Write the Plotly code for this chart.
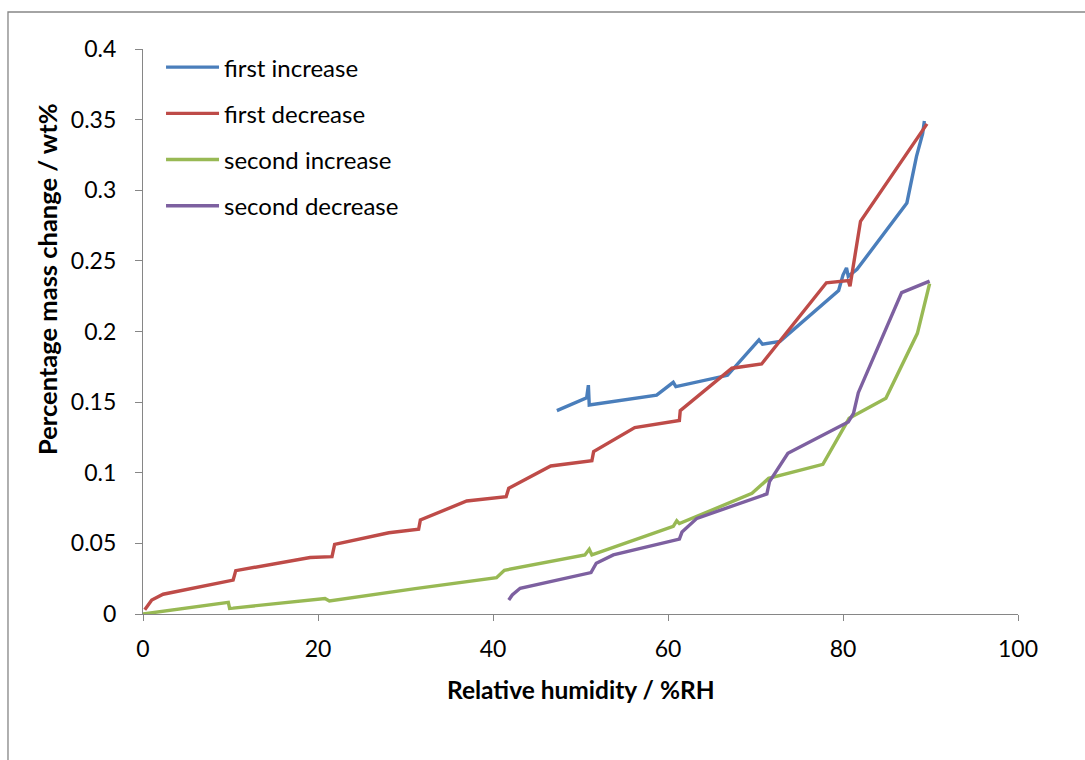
import plotly.graph_objects as go

# ---- data ----
first_increase_rh = [47.3, 50.7, 50.9, 51.0, 58.7, 60.6, 60.9, 66.8, 70.4, 70.8, 72.8,
                     79.5, 80.0, 80.4, 80.6, 81.6, 87.3, 88.4, 89.1, 89.3]
first_increase_mass = [0.144, 0.153, 0.162, 0.148, 0.155, 0.164, 0.161, 0.169, 0.194, 0.191, 0.193,
                       0.229, 0.240, 0.245, 0.239, 0.244, 0.291, 0.324, 0.340, 0.349]

first_decrease_rh = [89.6, 82.0, 80.8, 80.6, 78.1, 71.0, 70.7, 67.3, 61.4, 61.3, 56.2, 51.5, 51.3,
                     46.6, 41.8, 41.5, 37.0, 31.7, 31.5, 28.1, 21.9, 21.6, 19.1, 10.6, 10.3,
                     2.3, 1.0, 0.2]
first_decrease_mass = [0.347, 0.278, 0.232, 0.236, 0.2345, 0.179, 0.177, 0.174, 0.144, 0.137, 0.132,
                       0.115, 0.1085, 0.1048, 0.089, 0.083, 0.080, 0.0666, 0.060, 0.0575, 0.0493,
                       0.0406, 0.040, 0.0307, 0.024, 0.014, 0.0099, 0.003]

second_increase_rh = [0.0, 9.75, 9.9, 10.3, 20.8, 21.3, 31.1, 40.4, 41.3, 50.5, 51.0, 51.3,
                      60.6, 61.0, 61.3, 69.6, 71.5, 77.7, 80.7, 84.9, 88.5, 89.8, 89.9]
second_increase_mass = [0.0, 0.0083, 0.004, 0.0042, 0.011, 0.0092, 0.018, 0.0257, 0.031, 0.0418,
                        0.0458, 0.0418, 0.062, 0.066, 0.064, 0.0854, 0.096, 0.106, 0.1385, 0.1527,
                        0.1987, 0.2317, 0.234]

second_decrease_rh = [89.9, 86.7, 81.75, 81.2, 80.6, 73.7, 71.6, 71.3, 63.3, 61.6, 61.3, 53.75,
                      51.8, 51.2, 43.1, 42.2, 41.8]
second_decrease_mass = [0.2357, 0.2275, 0.1567, 0.142, 0.136, 0.1138, 0.0937, 0.085, 0.0677, 0.058,
                        0.053, 0.0418, 0.0359, 0.0293, 0.0182, 0.0135, 0.0099]

series = [
    ("first increase", first_increase_rh, first_increase_mass, "#4A7EBB"),
    ("first decrease", first_decrease_rh, first_decrease_mass, "#BE4B48"),
    ("second increase", second_increase_rh, second_increase_mass, "#98B954"),
    ("second decrease", second_decrease_rh, second_decrease_mass, "#7D60A0"),
]

FONT = "Lato"
AXIS_GREY = "#868686"

fig = go.Figure()
for i, (name, xs, ys, col) in enumerate(series):
    fig.add_trace(go.Scatter(
        x=xs, y=ys, name=name, mode="lines",
        line=dict(color=col, width=3.4),
        legendgroup=f"g{i}",
    ))

fig.update_layout(
    width=1085, height=760,
    paper_bgcolor="white", plot_bgcolor="white",
    margin=dict(l=143, r=67, t=49, b=146, autoexpand=False),
    font=dict(family=FONT, size=23, color="black"),
    showlegend=True,
    legend=dict(
        x=0.0206, y=1.007, xanchor="left", yanchor="top",
        bgcolor="rgba(0,0,0,0)", borderwidth=0,
        font=dict(family=FONT, size=24, color="black"),
        tracegroupgap=12, itemwidth=53,
    ),
    xaxis=dict(
        range=[0, 100], dtick=20, tick0=0,
        showgrid=False, zeroline=False,
        showline=True, linecolor=AXIS_GREY, linewidth=1.3,
        ticks="outside", ticklen=6, tickcolor=AXIS_GREY, tickwidth=1.3,
        tickfont=dict(family=FONT, size=23, color="black"),
        ticklabelstandoff=8,
    ),
    yaxis=dict(
        range=[0, 0.4], dtick=0.05, tick0=0,
        showgrid=False, zeroline=False,
        showline=True, linecolor=AXIS_GREY, linewidth=1.3,
        ticks="outside", ticklen=7, tickcolor=AXIS_GREY, tickwidth=1.3,
        tickfont=dict(family=FONT, size=23, color="black"),
        ticklabelstandoff=14,
    ),
    annotations=[
        dict(text="<b>Relative humidity / %RH</b>", xref="paper", yref="paper",
             x=0.5, y=-0.1345, xanchor="center", yanchor="middle", showarrow=False,
             font=dict(family=FONT, size=24.5, color="black")),
        dict(text="<b>Percentage mass change / wt%</b>", xref="paper", yref="paper",
             x=-0.1097, y=0.593, xanchor="center", yanchor="middle", showarrow=False,
             textangle=-90, font=dict(family=FONT, size=25.5, color="black")),
    ],
    shapes=[
        dict(type="rect", xref="paper", yref="paper",
             x0=-0.1543, x1=1.3, y0=-0.5, y1=1.0655,
             line=dict(color=AXIS_GREY, width=1.3), fillcolor="rgba(0,0,0,0)",
             layer="below"),
    ],
)

fig.write_html("out.html")
